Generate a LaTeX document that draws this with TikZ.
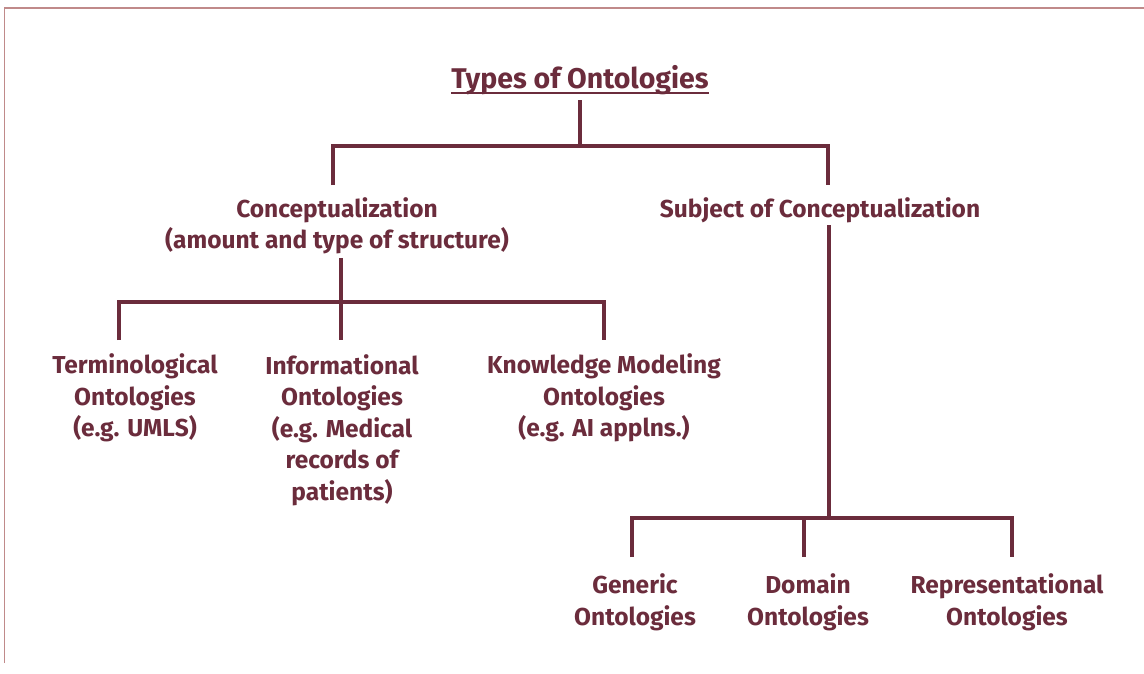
\documentclass[tikz,border=0pt]{standalone}
\usepackage{fontspec}
\setmainfont{Fira Sans}
\definecolor{maroon}{HTML}{6B2C3C}
\definecolor{frame}{HTML}{C08A8A}
\begin{document}
\begin{tikzpicture}[x=1pt,y=-1pt,
  lbl/.style={text=maroon,font=\fontsize{24.5}{31.5}\selectfont\bfseries,align=center,inner sep=0pt},
  conn/.style={draw=maroon,line width=3.5pt,line cap=butt,line join=miter}]
\useasboundingbox (0,0) rectangle (1144,673);
\fill[white] (0,0) rectangle (1144,673);
\draw[frame,line width=1.3pt] (4.5,663) -- (4.5,8) -- (1144,8);
% nodes
\node[lbl,font=\fontsize{28.5}{34}\selectfont\bfseries,anchor=base] (title) at (580,88) {Types of Ontologies};
\draw[draw=maroon,line width=2.5pt] ([yshift=-5pt]title.base -| title.west) -- ([yshift=-5pt]title.base -| title.east);
\node[lbl] (concept) at (337,226) {Conceptualization\\(amount and type of structure)};
\node[lbl] (subject) at (820,210) {Subject of Conceptualization};
\node[lbl] (term) at (135,398) {Terminological\\Ontologies\\(e.g. UMLS)};
\node[lbl] (info) at (342,430) {Informational\\Ontologies\\(e.g. Medical\\records of\\patients)};
\node[lbl] (know) at (604,398) {Knowledge Modeling\\Ontologies\\(e.g. AI applns.)};
\node[lbl] (gen) at (635,602.5) {Generic\\Ontologies};
\node[lbl] (dom) at (808,602.5) {Domain\\Ontologies};
\node[lbl] (rep) at (1007,602.5) {Representational\\Ontologies};
% junctions
\coordinate (t0) at (580,100);
\coordinate (t1) at (580,146);
\coordinate (a1) at (333,185);
\coordinate (b1) at (828,185);
\coordinate (c0) at (341,258);
\coordinate (c1) at (341,302);
\coordinate (d1) at (119,340);
\coordinate (d2) at (341,340);
\coordinate (d3) at (604,340);
\coordinate (e0) at (829,225);
\coordinate (e1) at (829,518);
\coordinate (f1) at (632,557);
\coordinate (f2) at (804,557);
\coordinate (f3) at (1012,557);
\draw[conn] (t0) -- (t1);
\draw[conn] (a1) |- (t1) -| (b1);
\draw[conn] (c0) -- (c1);
\draw[conn] (d1) |- (c1) -| (d3);
\draw[conn] (c1) -- (d2);
\draw[conn] (e0) -- (e1);
\draw[conn] (f1) |- (e1) -| (f3);
\draw[conn] (f2 |- e1) -- (f2);
\end{tikzpicture}
\end{document}
